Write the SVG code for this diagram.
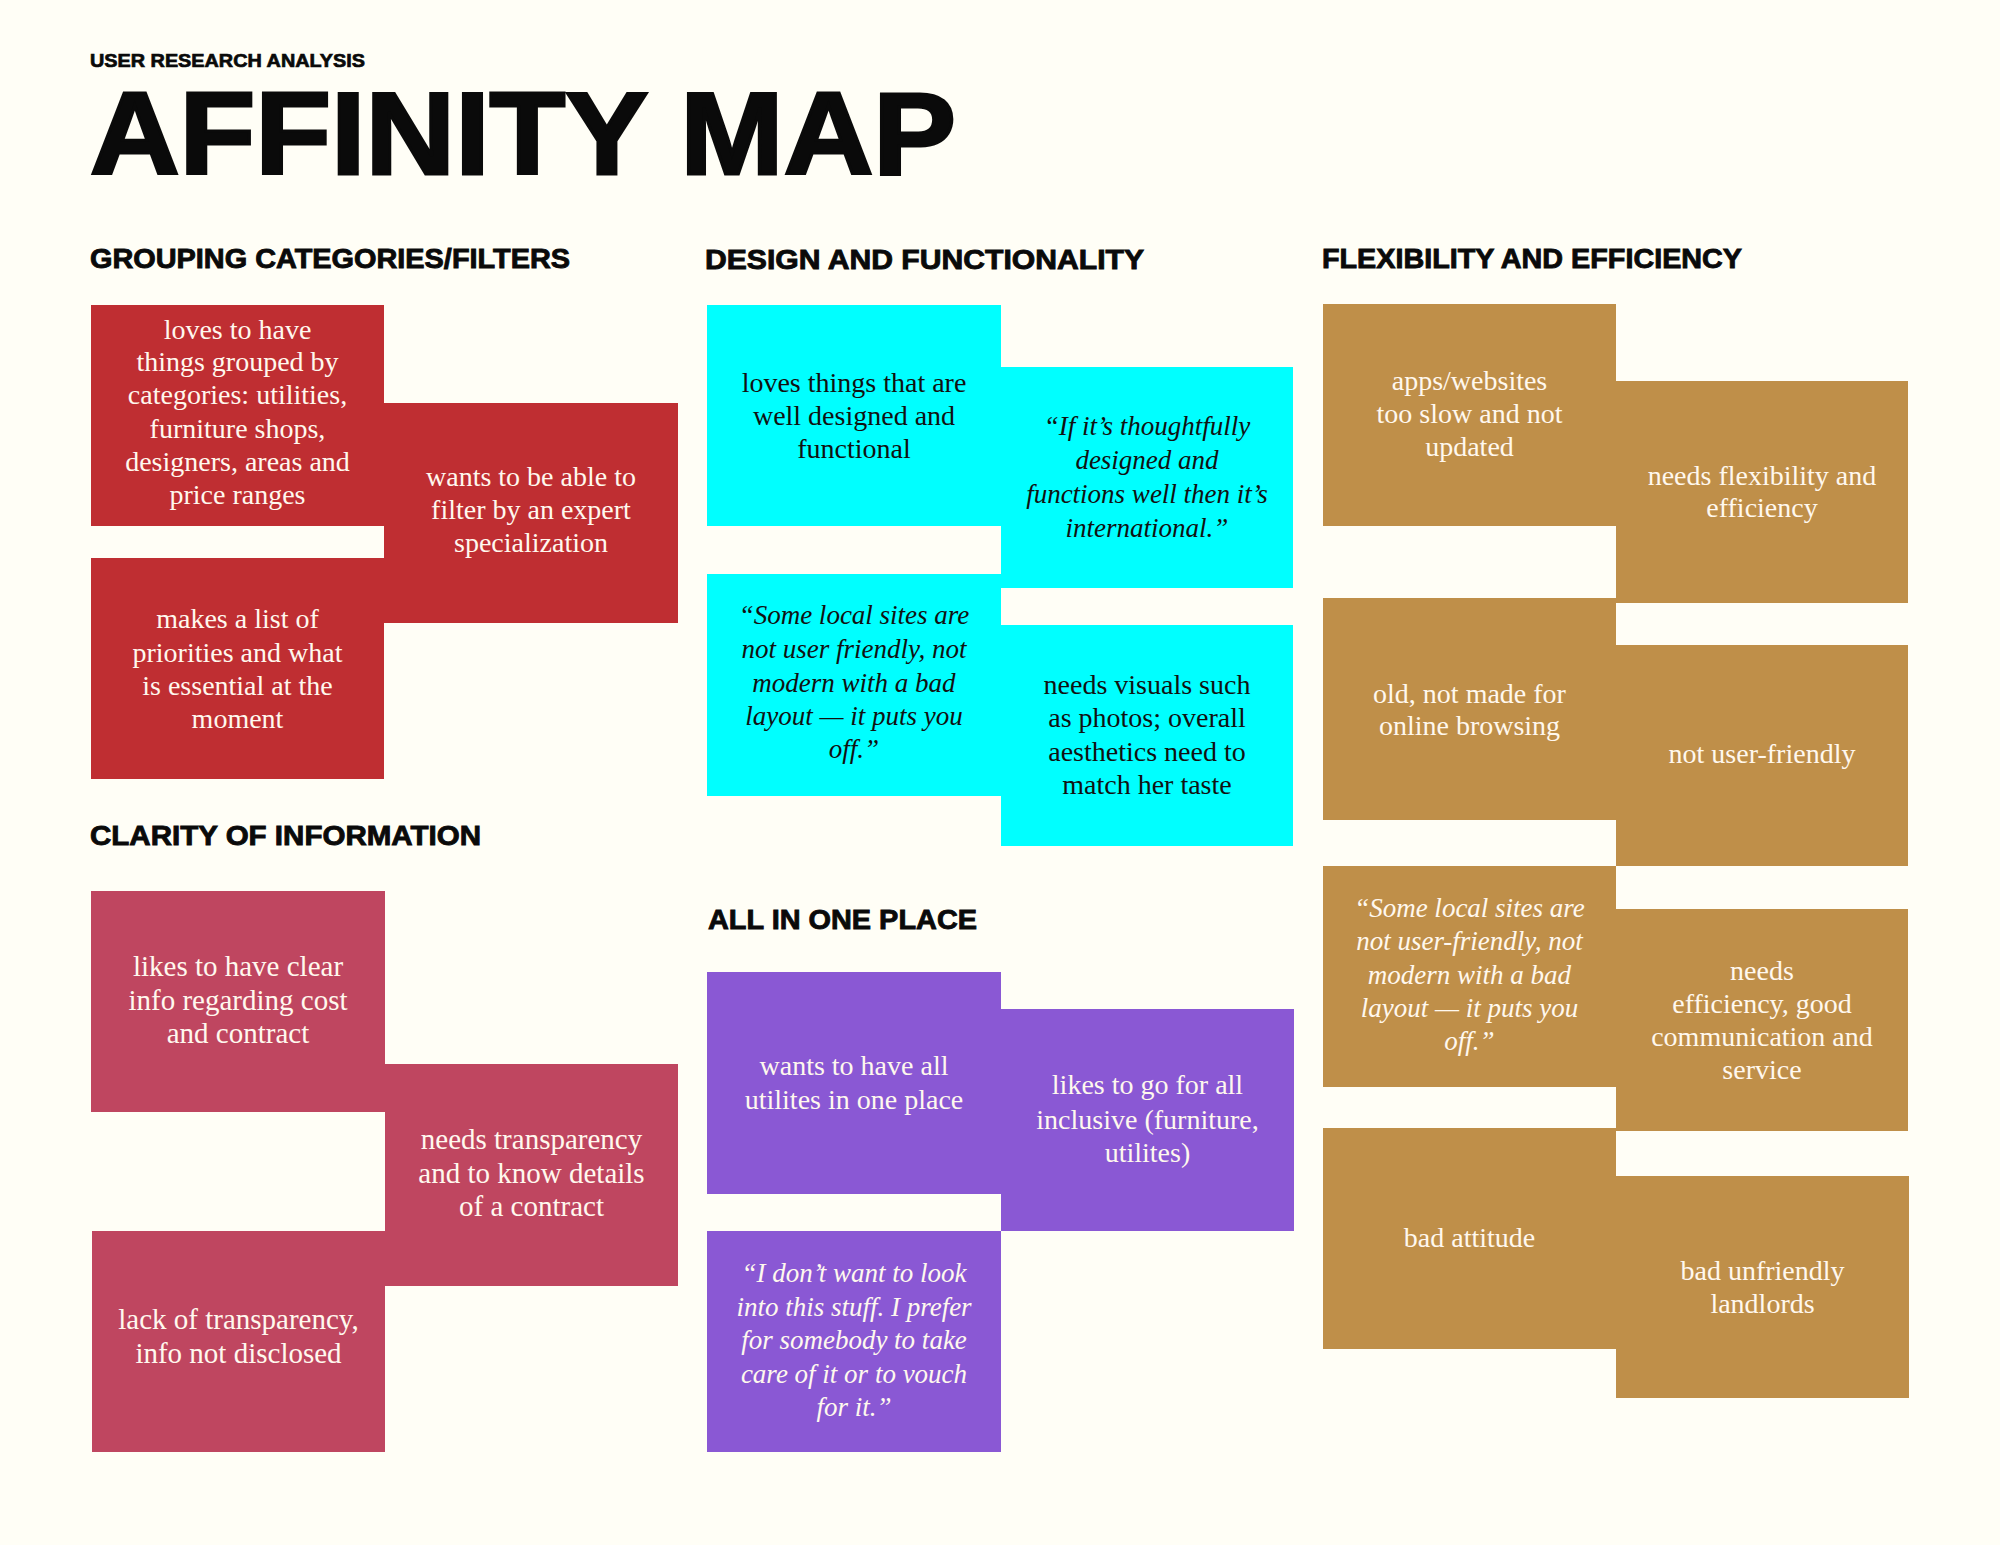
<svg xmlns="http://www.w3.org/2000/svg" width="2000" height="1545" viewBox="0 0 2000 1545">
<style>
.bg{fill:#FFFEF6}
.hd{font-family:"Liberation Sans","Arial",sans-serif;font-weight:700;fill:#0a0a0a;stroke:#0a0a0a}
.sh{stroke-width:0.9px}
.t{font-family:"Liberation Serif","Times New Roman",serif;font-size:28px;text-anchor:middle}
.i{font-style:italic;font-size:27px}
.lt{fill:#FFF8EE}
.dk{fill:#111111}
.red{fill:#BF2E32}
.cri{fill:#BF4660}
.cya{fill:#00FFFF}
.pur{fill:#8A58D4}
.gol{fill:#BF8F49}
.cri-t{font-size:29px}
</style>
<rect class="bg" x="0" y="0" width="2000" height="1545"/>

<g id="header">
<text class="hd" x="90" y="67" font-size="19" stroke-width="0.7" textLength="275" lengthAdjust="spacingAndGlyphs">USER RESEARCH ANALYSIS</text>
<text class="hd" x="90" y="174" font-size="116" textLength="866" lengthAdjust="spacingAndGlyphs" stroke-width="3">AFFINITY MAP</text>
</g>

<g id="headings">
<text id="h-grouping" class="hd sh" x="90" y="268" font-size="28" textLength="480" lengthAdjust="spacingAndGlyphs">GROUPING CATEGORIES/FILTERS</text>
<text id="h-design" class="hd sh" x="705" y="269" font-size="28" textLength="439" lengthAdjust="spacingAndGlyphs">DESIGN AND FUNCTIONALITY</text>
<text id="h-flex" class="hd sh" x="1322" y="268" font-size="28" textLength="420" lengthAdjust="spacingAndGlyphs">FLEXIBILITY AND EFFICIENCY</text>
<text id="h-clarity" class="hd sh" x="90" y="845" font-size="28" textLength="391" lengthAdjust="spacingAndGlyphs">CLARITY OF INFORMATION</text>
<text id="h-allinone" class="hd sh" x="708" y="929" font-size="28" textLength="269" lengthAdjust="spacingAndGlyphs">ALL IN ONE PLACE</text>
</g>

<!-- Grouping categories / filters -->
<g id="note-a">
<rect class="red" x="91" y="305" width="293" height="221"/>
<text class="t lt" x="237.5"><tspan x="237.5" y="339">loves to have</tspan><tspan x="237.5" y="371">things grouped by</tspan><tspan x="237.5" y="404">categories: utilities,</tspan><tspan x="237.5" y="437.5">furniture shops,</tspan><tspan x="237.5" y="471">designers, areas and</tspan><tspan x="237.5" y="504">price ranges</tspan></text>
</g>
<g id="note-b">
<rect class="red" x="384" y="403" width="294" height="220"/>
<text class="t lt" x="531"><tspan x="531" y="486">wants to be able to</tspan><tspan x="531" y="519">filter by an expert</tspan><tspan x="531" y="552">specialization</tspan></text>
</g>
<g id="note-c">
<rect class="red" x="91" y="558" width="293" height="221"/>
<text class="t lt" x="237.5"><tspan x="237.5" y="628">makes a list of</tspan><tspan x="237.5" y="661.5">priorities and what</tspan><tspan x="237.5" y="694.5">is essential at the</tspan><tspan x="237.5" y="728">moment</tspan></text>
</g>

<!-- Clarity of information -->
<g id="note-d">
<rect class="cri" x="91" y="891" width="294" height="221"/>
<text class="t cri-t lt" x="238"><tspan x="238" y="975.5">likes to have clear</tspan><tspan x="238" y="1009.5">info regarding cost</tspan><tspan x="238" y="1043">and contract</tspan></text>
</g>
<g id="note-e">
<rect class="cri" x="385" y="1064" width="293" height="222"/>
<text class="t cri-t lt" x="531.5"><tspan x="531.5" y="1149">needs transparency</tspan><tspan x="531.5" y="1183">and to know details</tspan><tspan x="531.5" y="1216">of a contract</tspan></text>
</g>
<g id="note-f">
<rect class="cri" x="92" y="1231" width="293" height="221"/>
<text class="t cri-t lt" x="238.5"><tspan x="238.5" y="1329">lack of transparency,</tspan><tspan x="238.5" y="1362.5">info not disclosed</tspan></text>
</g>

<!-- Design and functionality -->
<g id="note-g">
<rect class="cya" x="707" y="305" width="294" height="221"/>
<text class="t dk" x="854"><tspan x="854" y="392">loves things that are</tspan><tspan x="854" y="425">well designed and</tspan><tspan x="854" y="458">functional</tspan></text>
</g>
<g id="note-h">
<rect class="cya" x="1001" y="367" width="292" height="221"/>
<text class="t i dk" x="1147"><tspan x="1147" y="434.5">“If it’s thoughtfully</tspan><tspan x="1147" y="468.5">designed and</tspan><tspan x="1147" y="502.5">functions well then it’s</tspan><tspan x="1147" y="536.5">international.”</tspan></text>
</g>
<g id="note-i">
<rect class="cya" x="707" y="574" width="294" height="222"/>
<text class="t i dk" x="854"><tspan x="854" y="624">“Some local sites are</tspan><tspan x="854" y="658">not user friendly, not</tspan><tspan x="854" y="691.5">modern with a bad</tspan><tspan x="854" y="724.5">layout — it puts you</tspan><tspan x="854" y="758">off.”</tspan></text>
</g>
<g id="note-j">
<rect class="cya" x="1001" y="625" width="292" height="221"/>
<text class="t dk" x="1147"><tspan x="1147" y="693.5">needs visuals such</tspan><tspan x="1147" y="727">as photos; overall</tspan><tspan x="1147" y="760.5">aesthetics need to</tspan><tspan x="1147" y="793.5">match her taste</tspan></text>
</g>

<!-- All in one place -->
<g id="note-k">
<rect class="pur" x="707" y="972" width="294" height="222"/>
<text class="t lt" x="854"><tspan x="854" y="1075">wants to have all</tspan><tspan x="854" y="1109">utilites in one place</tspan></text>
</g>
<g id="note-l">
<rect class="pur" x="1001" y="1009" width="293" height="222"/>
<text class="t lt" x="1147.5"><tspan x="1147.5" y="1094">likes to go for all</tspan><tspan x="1147.5" y="1128.5">inclusive (furniture,</tspan><tspan x="1147.5" y="1161.5">utilites)</tspan></text>
</g>
<g id="note-m">
<rect class="pur" x="707" y="1231" width="294" height="221"/>
<text class="t i lt" x="854"><tspan x="854" y="1282">“I don’t want to look</tspan><tspan x="854" y="1316">into this stuff. I prefer</tspan><tspan x="854" y="1349">for somebody to take</tspan><tspan x="854" y="1383">care of it or to vouch</tspan><tspan x="854" y="1416">for it.”</tspan></text>
</g>

<!-- Flexibility and efficiency -->
<g id="note-n">
<rect class="gol" x="1323" y="304" width="293" height="222"/>
<text class="t lt" x="1469.5"><tspan x="1469.5" y="390">apps/websites</tspan><tspan x="1469.5" y="423">too slow and not</tspan><tspan x="1469.5" y="456">updated</tspan></text>
</g>
<g id="note-o">
<rect class="gol" x="1616" y="381" width="292" height="222"/>
<text class="t lt" x="1762"><tspan x="1762" y="484.5">needs flexibility and</tspan><tspan x="1762" y="517">efficiency</tspan></text>
</g>
<g id="note-p">
<rect class="gol" x="1323" y="598" width="293" height="222"/>
<text class="t lt" x="1469.5"><tspan x="1469.5" y="702.5">old, not made for</tspan><tspan x="1469.5" y="734.5">online browsing</tspan></text>
</g>
<g id="note-q">
<rect class="gol" x="1616" y="645" width="292" height="221"/>
<text class="t lt" x="1762" y="763">not user-friendly</text>
</g>
<g id="note-r">
<rect class="gol" x="1323" y="866" width="293" height="221"/>
<text class="t i lt" x="1469.5"><tspan x="1469.5" y="917">“Some local sites are</tspan><tspan x="1469.5" y="950">not user-friendly, not</tspan><tspan x="1469.5" y="983.5">modern with a bad</tspan><tspan x="1469.5" y="1017">layout — it puts you</tspan><tspan x="1469.5" y="1050">off.”</tspan></text>
</g>
<g id="note-s">
<rect class="gol" x="1616" y="909" width="292" height="222"/>
<text class="t lt" x="1762"><tspan x="1762" y="980">needs</tspan><tspan x="1762" y="1012.5">efficiency, good</tspan><tspan x="1762" y="1045.5">communication and</tspan><tspan x="1762" y="1078.5">service</tspan></text>
</g>
<g id="note-t">
<rect class="gol" x="1323" y="1128" width="293" height="221"/>
<text class="t lt" x="1469.5" y="1247">bad attitude</text>
</g>
<g id="note-u">
<rect class="gol" x="1616" y="1176" width="293" height="222"/>
<text class="t lt" x="1762.5"><tspan x="1762.5" y="1280">bad unfriendly</tspan><tspan x="1762.5" y="1313">landlords</tspan></text>
</g>
</svg>
